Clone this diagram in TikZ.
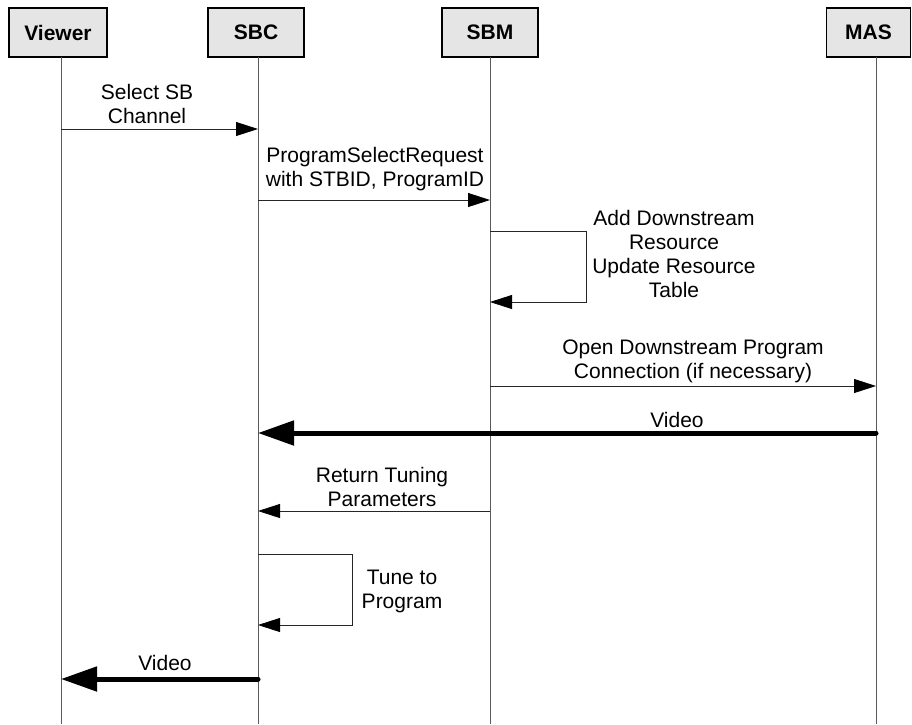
\documentclass[tikz,border=0pt]{standalone}
\usepackage{fontspec}
\setmainfont{Liberation Sans}
\usetikzlibrary{arrows.meta}
\begin{document}
\begin{tikzpicture}[x=1pt,y=-1pt,
  actor/.style={draw=black, line width=1.5pt, fill=black!10, minimum height=49pt, inner sep=0pt, font=\fontsize{21}{24}\selectfont\bfseries},
  life/.style={draw=black!65, line width=0.8pt},
  msg/.style={draw=black!85, line width=0.8pt, -{Triangle[length=22pt,width=14pt,color=black]}},
  thickmsg/.style={draw=black, line width=5pt, line cap=round, -{Triangle[length=36pt,width=24pt]}},
  lbl/.style={font=\fontsize{21}{24}\selectfont, align=center, inner sep=0pt}]
\useasboundingbox (0,0) rectangle (912,724);
% actors
\node[actor, minimum width=98pt] (viewer) at (58,32.5) {Viewer};
\node[actor, minimum width=96pt] (sbc) at (256,32.5) {SBC};
\node[actor, minimum width=96pt] (sbm) at (490,32.5) {SBM};
\node[actor, minimum width=84pt] (mas) at (868.5,32.5) {MAS};
% lifelines
\coordinate (lv) at (61,57);  \coordinate (lvb) at (61,724);
\coordinate (ls) at (258,57); \coordinate (lsb) at (258,724);
\coordinate (lm) at (490,57); \coordinate (lmb) at (490,724);
\coordinate (la) at (876,57); \coordinate (lab) at (876,724);
\draw[life] (lv) -- (lvb);
\draw[life] (ls) -- (lsb);
\draw[life] (lm) -- (lmb);
\draw[life] (la) -- (lab);
% 1
\draw[msg] (lv |- 0,129) -- (ls |- 0,129);
\node[lbl] (t1) at (147,103.5) {Select SB\\Channel};
% 2
\draw[msg] (ls |- 0,200) -- (lm |- 0,200);
\node[lbl] (t2) at (375,169) {ProgramSelectRequest\\with STBID, ProgramID};
% 3 self loop SBM
\draw[msg] (lm |- 0,231) -- (586,231) -- (586,302) -- (lm |- 0,302);
\node[lbl] (t3) at (674,254) {Add Downstream\\Resource\\Update Resource\\Table};
% 4
\draw[msg] (lm |- 0,386) -- (la |- 0,386);
\node[lbl] (t4) at (693,361.5) {Open Downstream Program\\Connection (if necessary)};
% 5 video
\draw[thickmsg] (la |- 0,433) -- (ls |- 0,433);
\node[lbl] (t5) at (677,420) {Video};
% 6
\draw[msg] (lm |- 0,511) -- (ls |- 0,511);
\node[lbl] (t6) at (382,486.5) {Return Tuning\\Parameters};
% 7 self loop SBC
\draw[msg] (ls |- 0,554) -- (352,554) -- (352,625) -- (ls |- 0,625);
\node[lbl] (t7) at (402,591) {Tune to\\Program};
% 8 video
\draw[thickmsg] (ls |- 0,679) -- (lv |- 0,679);
\node[lbl] (t8) at (165,663) {Video};
\end{tikzpicture}
\end{document}
